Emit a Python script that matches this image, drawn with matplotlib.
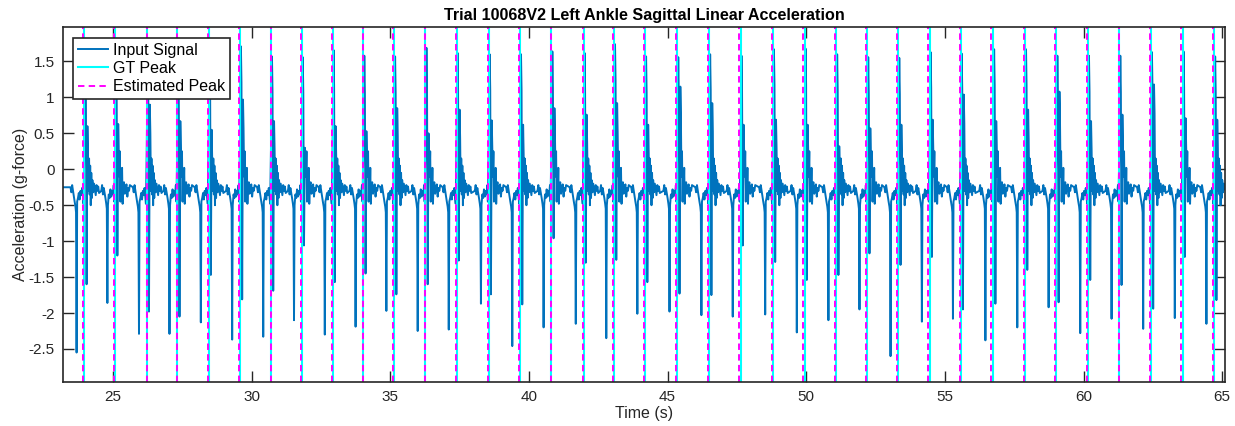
import numpy as np
import matplotlib
matplotlib.use('Agg')
import matplotlib.pyplot as plt

plt.rcParams['font.family'] = ['Liberation Sans', 'DejaVu Sans']

gt_peaks = [23.97, 25.08, 26.22, 27.32, 28.45, 29.58, 30.70, 31.81, 32.92, 34.03,
            35.14, 36.27, 37.39, 38.55, 39.68, 40.81, 41.97, 43.07, 44.19, 45.35,
            46.50, 47.63, 48.80, 49.94, 51.08, 52.20, 53.32, 54.45, 55.57, 56.74,
            57.89, 59.02, 60.16, 61.29, 62.43, 63.57, 64.71]
est_peaks = [23.93, 25.05, 26.22, 27.32, 28.43, 29.56, 30.69, 31.78, 32.89, 34.01,
             35.11, 36.24, 37.36, 38.51, 39.65, 40.78, 41.94, 43.05, 44.16, 45.32,
             46.47, 47.59, 48.75, 49.90, 51.02, 52.16, 53.28, 54.40, 55.53, 56.67,
             57.84, 58.98, 60.11, 61.27, 62.38, 63.52, 64.66]

# per stride values of the signal (g)
peak_amp = [1.60, 1.55, 1.60, 1.58, 1.62, 1.71, 1.57, 1.56, 1.66, 1.58,
            1.57, 1.69, 1.62, 1.60, 1.60, 1.64, 1.62, 1.74, 1.57, 1.56,
            1.60, 1.58, 1.67, 1.68, 1.60, 1.56, 1.55, 1.63, 1.61, 1.67,
            1.67, 1.58, 1.58, 1.58, 1.63, 1.64, 1.57]
pre_dip = [-2.55, -1.86, -2.29, -2.29, -2.13, -2.37, -2.33, -2.10, -2.30, -2.19,
           -1.97, -2.25, -2.23, -1.87, -2.46, -2.20, -2.15, -2.35, -2.01, -1.98,
           -2.03, -2.05, -2.02, -2.27, -2.10, -1.95, -2.60, -2.12, -2.08, -2.38,
           -2.20, -1.92, -2.28, -2.08, -2.22, -2.07, -2.15]
post_dip = [-1.60, -1.20, -1.98, -2.05, -1.47, -1.81, -1.69, -1.06, -1.57, -1.45,
            -1.74, -1.60, -1.27, -1.74, -1.88, -0.96, -1.30, -1.26, -1.57, -1.73,
            -1.75, -1.06, -1.29, -1.54, -1.47, -1.17, -1.33, -1.22, -1.95, -1.87,
            -1.40, -1.85, -1.54, -1.61, -1.94, -1.22, -1.82]
second_amp = [0.60, 0.63, 0.90, 0.67, 0.55, 0.97, 0.67, 0.30, 0.60, 0.53,
              0.85, 0.50, 0.83, 0.68, 0.62, 0.85, 0.76, 0.92, 0.62, 1.15,
              0.92, 0.62, 0.69, 0.62, 0.32, 0.57, 0.62, 0.69, 1.04, 0.67,
              0.83, 1.08, 0.67, 0.76, 1.18, 0.71, 0.69]

# baseline between strides, read from two neighbouring strides (s relative to peak, g)
after_dt = [0.15, 0.17, 0.19, 0.21, 0.23, 0.25, 0.27, 0.29, 0.32, 0.35, 0.38, 0.41, 0.44, 0.47, 0.50, 0.53]
after_a = [-0.30, 0.15, -0.35, 0.05, -0.50, -0.05, -0.40, -0.15, -0.32, -0.20, -0.28, -0.36, -0.22, -0.30, -0.24, -0.33]
after_b = [-0.10, 0.25, -0.45, -0.05, -0.30, 0.02, -0.48, -0.22, -0.18, -0.34, -0.25, -0.21, -0.38, -0.26, -0.30, -0.22]
before_dt = [-0.50, -0.47, -0.44, -0.41, -0.38, -0.35, -0.32, -0.30, -0.26, -0.23, -0.20, -0.17, -0.14, -0.11, -0.08, -0.05, -0.03]
before_a = [-0.25, -0.32, -0.22, -0.30, -0.38, -0.45, -0.52, -0.60, -0.45, -0.40, -0.33, -0.42, -0.30, -0.36, -0.26, -0.40, -0.48]
before_b = [-0.30, -0.22, -0.35, -0.26, -0.33, -0.40, -0.48, -0.55, -0.50, -0.35, -0.40, -0.28, -0.38, -0.30, -0.35, -0.22, -0.45]

t_start, t_end = 23.2, 65.1

t_sig = [t_start]
a_sig = [-0.25]
for i, t0 in enumerate(gt_peaks):
    before = before_a if i % 2 == 0 else before_b
    after = after_a if i % 2 == 0 else after_b
    for k, (dt, v) in enumerate(zip(before_dt, before)):
        if t0 + dt > t_start:
            t_sig.append(t0 + dt)
            a_sig.append(v)
        if k == 7:
            t_sig.append(t0 - 0.28)
            a_sig.append(pre_dip[i])
    t_sig += [t0, t0 + 0.035, t0 + 0.055, t0 + 0.08, t0 + 0.11, t0 + 0.13]
    a_sig += [0.3, peak_amp[i], peak_amp[i] - 0.5, post_dip[i], second_amp[i], second_amp[i] - 0.4]
    for dt, v in zip(after_dt, after):
        if t0 + dt < t_end:
            t_sig.append(t0 + dt)
            a_sig.append(v)
t_sig.append(t_end)
a_sig.append(-0.28)

fig = plt.figure(figsize=(12.35, 4.26), dpi=100)
ax = fig.add_axes([63 / 1235, 44 / 426, 1162 / 1235, 355 / 426])

ax.plot(t_sig, a_sig, color='#0072BD', lw=1.4, label='Input Signal')
for k, t in enumerate(gt_peaks):
    ax.axvline(t, color='cyan', lw=1.5, label='GT Peak' if k == 0 else None)
for k, t in enumerate(est_peaks):
    ax.axvline(t, color='magenta', lw=1.4, linestyle=(0, (3.3, 2.2)),
               label='Estimated Peak' if k == 0 else None)

ax.set_xlim(t_start, t_end)
ax.set_ylim(-2.96, 1.98)
ax.set_xticks([25, 30, 35, 40, 45, 50, 55, 60, 65])
ax.set_yticks([-2.5, -2, -1.5, -1, -0.5, 0, 0.5, 1, 1.5])
ax.set_yticklabels(['-2.5', '-2', '-1.5', '-1', '-0.5', '0', '0.5', '1', '1.5'])
ax.tick_params(direction='in', length=8, width=1, top=True, right=True,
               labelsize=11, colors='#262626', pad=6)
for s in ax.spines.values():
    s.set_color('#262626')
    s.set_linewidth(1.2)

ax.set_xlabel('Time (s)', fontsize=11.5, color='#262626', labelpad=1)
ax.set_ylabel('Acceleration (g-force)', fontsize=11.5, color='#262626', labelpad=0.5)
ax.set_title('Trial 10068V2 Left Ankle Sagittal Linear Acceleration',
             fontsize=11.6, fontweight='bold', pad=5)

leg = ax.legend(loc='upper left', bbox_to_anchor=(0.0086, 0.969), borderaxespad=0,
                fontsize=11.5, fancybox=False, framealpha=1, edgecolor='#262626',
                handlelength=1.9, handletextpad=0.3, labelspacing=0.2,
                borderpad=0.3)
leg.get_frame().set_linewidth(1.2)

fig.savefig('out.png', dpi=100)
